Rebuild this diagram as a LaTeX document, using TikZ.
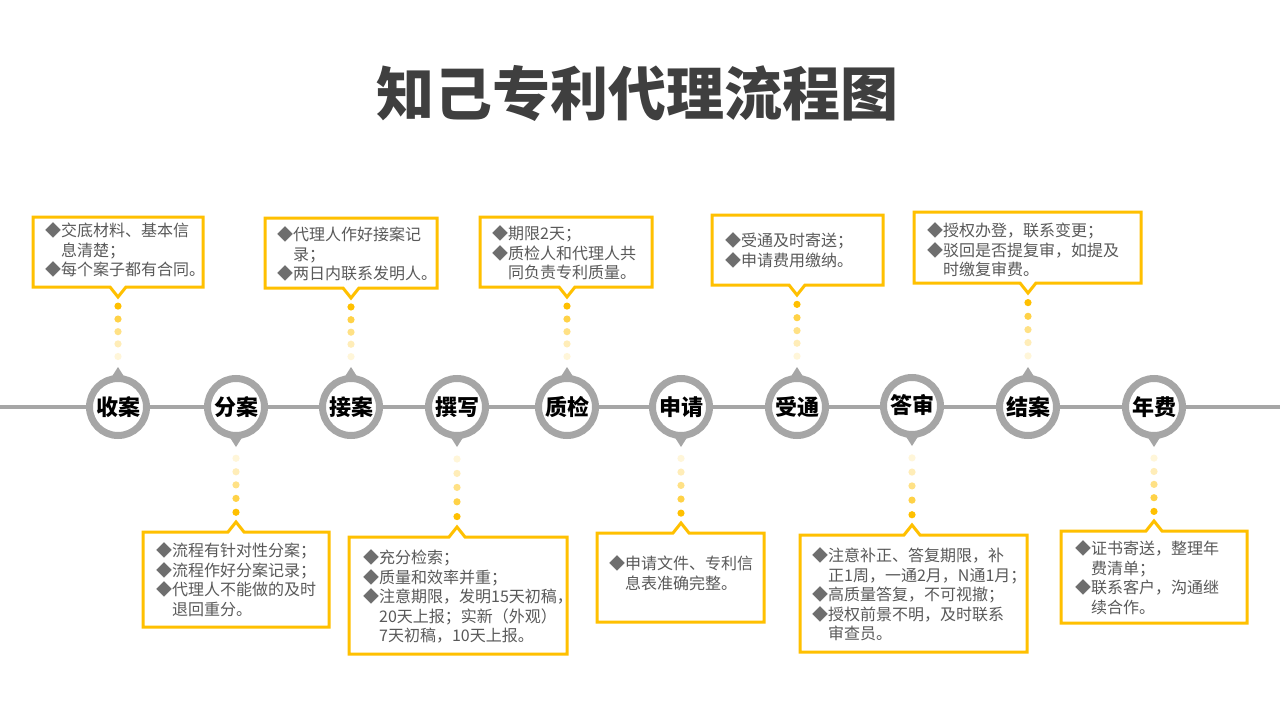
\documentclass[tikz,border=0pt]{standalone}
\usepackage{fontspec}
\setmainfont{Noto Sans CJK SC}
\usetikzlibrary{calc}
\definecolor{ring}{HTML}{A6A6A6}
\definecolor{gold}{HTML}{FFC000}
\definecolor{txt}{HTML}{595959}
\definecolor{bulc}{HTML}{6E6E6E}
\definecolor{ttl}{HTML}{3F3F3F}
\newcommand\bul{\textcolor{bulc}{◆}}
\newcommand\ind{\hspace*{1em}}
% callout with notch at bottom: name L T R B nx
\newcommand\boxabove[6]{%
  \draw[callout] (#2,#3) -- (#4,#3) -- (#4,#5) -- (#6+8,#5) -- (#6,#5+10) -- (#6-8,#5) -- (#2,#5) -- cycle;
  \coordinate (#1) at (#6,#5+10);}
% callout with notch on top: name L T R B nx
\newcommand\boxbelow[6]{%
  \draw[callout] (#2,#3) -- (#6-8,#3) -- (#6,#3-10) -- (#6+8,#3) -- (#4,#3) -- (#4,#5) -- (#2,#5) -- cycle;
  \coordinate (#1) at (#6,#3-10);}
% pointers on circles
\newcommand\ptrup[2]{%
  \fill[ptr] ($(#1)+(-7,-29)$) -- ($(#1)+(0,-40)$) -- ($(#1)+(7,-29)$) -- cycle;
  \coordinate (#2) at ($(#1)+(0,-40)$);}
\newcommand\ptrdown[2]{%
  \fill[ptr] ($(#1)+(-7,29)$) -- ($(#1)+(0,40)$) -- ($(#1)+(7,29)$) -- cycle;
  \coordinate (#2) at ($(#1)+(0,40)$);}
% dotted connector from callout notch (#1) to circle pointer (#2)
\newcommand\dotline[2]{%
  \foreach \f/\op in {0.13/100,0.315/72,0.495/48,0.67/28,0.85/15}
    \fill[gold!\op!white] ($(#1)!\f!(#2)$) circle[radius=3.6pt];}
\begin{document}
\begin{tikzpicture}[x=1pt,y=-1pt,
  stage/.style={circle, draw=ring, line width=7pt, fill=white, minimum size=57pt, inner sep=0pt,
    font=\fontsize{22}{24}\selectfont\bfseries, text=black},
  callout/.style={draw=gold, line width=3pt, fill=white, line join=miter},
  note/.style={anchor=north west, inner sep=0pt, align=left, text=txt,
    font=\fontsize{16}{19.5}\selectfont},
  timeline/.style={draw=ring, line width=4pt},
  ptr/.style={fill=ring},
  title/.style={font=\fontsize{58}{62}\selectfont\bfseries, text=ttl}]
\fill[white] (0,0) rectangle (1280,720);
\useasboundingbox (0,0) rectangle (1280,720);

\node[title] (title) at (637,93) {知己专利代理流程图};

% timeline
\coordinate (tlA) at (0,407);
\coordinate (tlB) at (1280,407);
\draw[timeline] (tlA) -- (tlB);

% stage circles
\node[stage] (c1) at (118,407) {收案};
\node[stage] (c2) at (236,407) {分案};
\node[stage] (c3) at (351,407) {接案};
\node[stage] (c4) at (457,407) {撰写};
\node[stage] (c5) at (567,407) {质检};
\node[stage] (c6) at (681,407) {申请};
\node[stage] (c7) at (797,407) {受通};
\node[stage] (c8) at (912,406) {\raisebox{5pt}{答审}};
\node[stage] (c9) at (1028,407) {结案};
\node[stage] (c10) at (1154,407) {年费};

\ptrup{c1}{p1}
\ptrdown{c2}{p2}
\ptrup{c3}{p3}
\ptrdown{c4}{p4}
\ptrup{c5}{p5}
\ptrdown{c6}{p6}
\ptrup{c7}{p7}
\ptrdown{c8}{p8}
\ptrup{c9}{p9}
\ptrdown{c10}{p10}

% callouts
\boxabove{n1}{33}{217}{203}{287}{118}
\boxabove{n3}{265}{218}{437}{288}{351}
\boxabove{n5}{480}{217}{652}{287}{567}
\boxabove{n7}{712}{215}{883}{285}{797}
\boxabove{n9}{914}{212}{1141}{283}{1028}
\boxbelow{n2}{143}{532}{329}{627}{236}
\boxbelow{n4}{349}{537}{567}{654}{457}
\boxbelow{n6}{597}{533}{764}{622}{681}
\boxbelow{n8}{800}{535}{1027}{652}{912}
\boxbelow{n10}{1061}{531}{1247}{623}{1154}

% dotted connectors
\dotline{n1}{p1}
\dotline{n2}{p2}
\dotline{n3}{p3}
\dotline{n4}{p4}
\dotline{n5}{p5}
\dotline{n6}{p6}
\dotline{n7}{p7}
\dotline{n8}{p8}
\dotline{n9}{p9}
\dotline{n10}{p10}

% texts
\node[note] (t1) at (45,222.5) {\bul 交底材料、基本信\\\ind 息清楚；\\\bul 每个案子都有合同。};
\node[note] (t3) at (277,226.5) {\bul 代理人作好接案记\\\ind 录；\\\bul 两日内联系发明人。};
\node[note] (t5) at (492,225.5) {\bul 期限2天；\\\bul 质检人和代理人共\\\ind 同负责专利质量。};
\node[note] (t7) at (725,232.5) {\bul 受通及时寄送；\\\bul 申请费用缴纳。};
\node[note] (t9) at (927,222.5) {\bul 授权办登，联系变更；\\\bul 驳回是否提复审，如提及\\\ind 时缴复审费。};
\node[note] (t2) at (156,542.5) {\bul 流程有针对性分案；\\\bul 流程作好分案记录；\\\bul 代理人不能做的及时\\\ind 退回重分。};
\node[note] (t4) at (363,549.5) {\bul 充分检索；\\\bul 质量和效率并重；\\\bul 注意期限，发明15天初稿，\\\ind 20天上报；实新（外观）\\\ind 7天初稿，10天上报。};
\node[note] (t6) at (609,555.5) {\bul 申请文件、专利信\\\ind 息表准确完整。};
\node[note] (t8) at (812,547.5) {\bul 注意补正、答复期限，补\\\ind 正1周，一通2月，N通1月；\\\bul 高质量答复，不可视撤；\\\bul 授权前景不明，及时联系\\\ind 审查员。};
\node[note] (t10) at (1075,540.5) {\bul 证书寄送，整理年\\\ind 费清单；\\\bul 联系客户，沟通继\\\ind 续合作。};
\end{tikzpicture}
\end{document}
